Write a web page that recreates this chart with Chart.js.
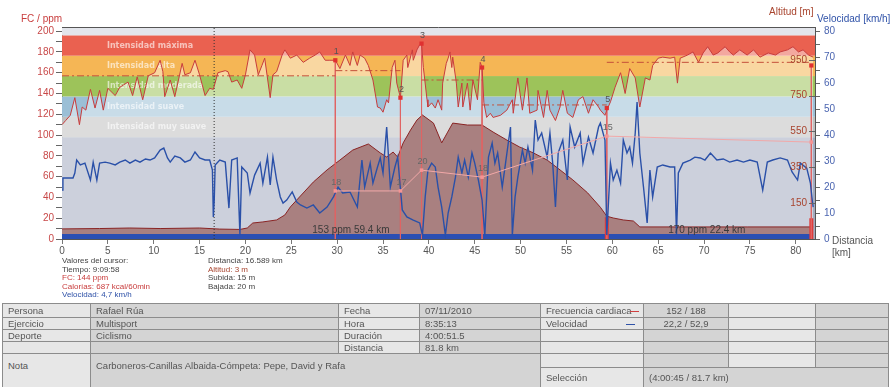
<!DOCTYPE html>
<html>
<head>
<meta charset="utf-8">
<script src="https://cdn.jsdelivr.net/npm/chart.js@4.4.1/dist/chart.umd.min.js"></script>
<style>
  body { margin: 0; background: #fff; font-family: "Liberation Sans", Arial, sans-serif; }
  #wrap { position: relative; width: 890px; height: 387px; overflow: hidden; }
  #chart { position: absolute; left: 0; top: 0; }
  .t { position: absolute; white-space: nowrap; font-size: 10px; line-height: 10px; }
  .cur { position: absolute; font-size: 8px; line-height: 8.5px; white-space: nowrap; color: #444; }
  .red { color: #c83c3c; }
  .blue { color: #2f52a8; }
  .brown { color: #a8442e; }
  table { position: absolute; left: 2px; top: 303px; border-collapse: collapse; table-layout: fixed;
          font-size: 9.5px; color: #555; }
  td { border: 1px solid #8c8c8c; padding: 0 0 0 5px; white-space: nowrap; overflow: hidden; }
  td.l { background: #e7e7e7; }
  td.d { background: #d4d4d4; }
  td.c { text-align: center; padding: 0; }
  .mk { display: inline-block; width: 9px; height: 1px; vertical-align: middle; margin-left: 1px; }
</style>
</head>
<body>
<div id="wrap">
  <canvas id="chart" width="890" height="300"></canvas>

  <div class="t red" style="left:21px;top:14px;">FC / ppm</div>
  <div class="t brown" style="left:769px;top:7px;">Altitud [m]</div>
  <div class="t blue" style="left:817px;top:14px;">Velocidad [km/h]</div>
  <div class="t" style="left:832px;top:236px;color:#555;">Distancia</div>
  <div class="t" style="left:832px;top:248px;color:#555;">[km]</div>

  <div class="cur" style="left:62px;top:257px;">
    Valores del cursor:<br>
    Tiempo: 9:09:58<br>
    <span class="red">FC: 144 ppm</span><br>
    <span class="red">Calorías: 687 kcal/60min</span><br>
    <span class="blue">Velocidad: 4,7 km/h</span>
  </div>
  <div class="cur" style="left:208px;top:257px;">
    Distancia: 16.589 km<br>
    <span class="brown">Altitud: 3 m</span><br>
    Subida: 15 m<br>
    Bajada: 20 m
  </div>

  <table>
    <colgroup>
      <col style="width:88px"><col style="width:248px"><col style="width:81px"><col style="width:121px">
      <col style="width:103px"><col style="width:85px"><col style="width:87px"><col style="width:73px">
    </colgroup>
    <tr style="height:14px">
      <td class="l">Persona</td><td class="d">Rafael Rúa</td><td class="l">Fecha</td><td class="d">07/11/2010</td>
      <td class="l">Frecuencia cardiaca<span class="mk" style="background:#d04040;margin-left:-2px"></span></td>
      <td class="d c">152 / 188</td><td class="l"></td><td class="d"></td>
    </tr>
    <tr style="height:12px">
      <td class="l">Ejercicio</td><td class="d">Multisport</td><td class="l">Hora</td><td class="d">8:35:13</td>
      <td class="l">Velocidad<span class="mk" style="background:#2f52a8;margin-left:39px"></span></td>
      <td class="d c">22,2 / 52,9</td><td class="l"></td><td class="d"></td>
    </tr>
    <tr style="height:12px">
      <td class="l">Deporte</td><td class="d">Ciclismo</td><td class="l">Duración</td><td class="d">4:00:51.5</td>
      <td class="l"></td><td class="d"></td><td class="l"></td><td class="d"></td>
    </tr>
    <tr style="height:12px">
      <td class="l"></td><td class="d"></td><td class="l">Distancia</td><td class="d">81.8 km</td>
      <td class="l"></td><td class="d"></td><td class="l"></td><td class="d"></td>
    </tr>
    <tr style="height:14px">
      <td class="l" rowspan="2" style="vertical-align:top;padding-top:6px;">Nota</td>
      <td class="d" colspan="3" rowspan="2" style="vertical-align:top;padding-top:6px;">Carboneros-Canillas Albaida-Cómpeta: Pepe, David y Rafa</td>
      <td class="l"></td><td class="d"></td><td class="l"></td><td class="d"></td>
    </tr>
    <tr style="height:20px">
      <td class="l">Selección</td><td class="d" colspan="3">(4:00:45 / 81.7 km)</td>
    </tr>
  </table>
</div>

<script>
// heart rate (ppm) against distance (km)
const hrKm = [0, 0.4, 0.9, 1.4, 1.9, 2.2, 2.6, 3.1, 3.6, 4.1, 4.5, 5.0, 5.8, 6.3, 7.2, 7.7, 8.2, 8.8, 9.4, 10.1,
  10.7, 11.0, 11.2, 11.8, 12.3, 13.1, 13.4, 14.0, 14.5, 15.0, 15.6, 16.1, 16.5, 17.0, 17.8, 18.1, 18.5, 19.1, 19.6, 20.0,
  20.5, 21.0, 21.4, 21.8, 22.1, 22.7, 23.0, 23.4, 24.0, 24.3, 24.9, 25.6, 26.3, 27.0, 27.6, 28.1, 28.7, 29.2, 29.8, 30.3,
  30.9, 31.4, 31.7, 32.2, 32.5, 33.0, 33.4, 33.9, 34.4, 34.7, 35.0, 35.4, 35.6, 36.0, 36.3, 36.5, 36.9, 37.2, 37.6, 37.7,
  38.2, 38.3, 38.7, 39.0, 39.2, 39.4, 39.8, 39.9, 40.3, 40.7, 41.0, 41.4, 41.5, 41.9, 42.1, 42.3, 42.5, 42.6, 43.0, 43.2,
  43.6, 43.7, 44.2, 44.5, 44.8, 45.3, 45.6, 45.8, 46.0, 46.3, 46.7, 47.0, 47.8, 48.5, 49.1, 49.2, 49.7, 50.2, 50.7, 51.0,
  51.8, 51.9, 52.5, 52.9, 53.2, 53.8, 54.3, 54.6, 55.1, 55.7, 56.3, 56.8, 57.4, 57.9, 58.5, 58.7, 59.2, 59.4, 59.8, 60.3,
  60.9, 61.4, 61.9, 62.5, 63.0, 63.6, 64.1, 64.4, 65.0, 65.5, 66.3, 66.8, 67.1, 67.4, 68.2, 68.8, 69.4, 69.9, 70.4, 71.0,
  71.5, 72.3, 72.8, 73.2, 73.9, 74.7, 75.4, 76.1, 77.0, 77.8, 78.3, 79.1, 79.7, 80.3, 80.8, 81.4, 81.9];
const hrBpm = [110, 114, 119, 136, 110, 127, 124, 144, 126, 143, 124, 145, 138, 146, 151, 138, 156, 134, 157, 160,
  172, 161, 137, 153, 137, 169, 158, 160, 172, 158, 138, 145, 144, 160, 162, 161, 151, 153, 145, 158,
  182, 177, 158, 167, 174, 136, 158, 161, 177, 182, 174, 177, 170, 174, 177, 180, 172, 172, 172, 164,
  177, 167, 180, 167, 177, 174, 167, 153, 127, 126, 122, 134, 131, 165, 172, 150, 136, 172, 177, 165,
  182, 172, 182, 187, 188, 165, 134, 127, 131, 126, 134, 124, 150, 169, 174, 180, 165, 175, 150, 127,
  150, 127, 150, 124, 153, 134, 170, 165, 131, 117, 121, 117, 119, 124, 134, 121, 155, 124, 155, 121,
  124, 143, 117, 143, 124, 114, 127, 143, 121, 117, 134, 137, 121, 134, 127, 124, 119, 124, 132, 146,
  160, 140, 164, 155, 127, 155, 153, 167, 174, 175, 174, 175, 150, 174, 177, 180, 170, 179, 185, 177,
  179, 185, 180, 177, 182, 177, 182, 175, 179, 177, 180, 182, 185, 180, 182, 177, 175];

// speed (km/h) against distance (km)
const speedKm = [0, 0.1, 1.2, 1.4, 1.6, 2.0, 2.5, 3.1, 3.4, 3.8, 4.1, 4.7, 5.2, 5.8, 6.3, 6.9, 7.4, 8.0, 8.5, 9.1,
  9.6, 10.1, 10.7, 11.1, 11.5, 11.8, 12.3, 12.9, 13.4, 14.0, 14.5, 15.0, 15.6, 16.1, 16.4, 16.5, 16.6, 16.7, 17.2, 17.8,
  18.2, 18.5, 19.1, 19.4, 19.6, 20.2, 20.5, 21.0, 21.6, 21.9, 22.4, 22.7, 23.0, 23.4, 23.8, 24.1, 24.5, 25.1, 25.6, 26.0,
  26.7, 27.4, 28.1, 28.9, 29.6, 30.1, 30.6, 31.4, 32.2, 32.7, 33.0, 33.6, 33.9, 34.4, 34.7, 35.0, 35.4, 35.8, 36.3, 36.6,
  37.1, 37.6, 38.3, 39.0, 39.3, 39.6, 39.9, 40.3, 40.7, 41.0, 41.4, 41.8, 42.1, 42.5, 42.9, 43.2, 43.6, 43.9, 44.3, 44.7,
  45.0, 45.4, 45.8, 46.1, 46.5, 46.9, 47.2, 47.5, 48.0, 48.3, 48.6, 48.9, 49.1, 49.4, 49.7, 50.2, 50.5, 50.8, 51.3, 51.6,
  51.9, 52.3, 52.9, 53.2, 53.5, 53.8, 54.1, 54.6, 55.1, 55.4, 55.9, 56.5, 56.8, 57.4, 57.9, 58.5, 58.7, 59.2, 59.4, 59.8,
  60.1, 60.5, 60.9, 61.2, 61.6, 61.9, 62.2, 62.5, 62.7, 63.0, 63.4, 63.8, 64.1, 64.4, 64.9, 65.5, 66.3, 66.8, 67.0, 67.2,
  67.7, 68.5, 69.0, 69.6, 70.1, 70.7, 71.4, 72.1, 72.8, 73.6, 74.3, 75.0, 75.8, 76.4, 76.9, 77.5, 78.3, 79.1, 79.6, 80.2,
  80.5, 81.2, 81.6, 81.8, 81.9];
const speedKmh = [18.8, 23.5, 23.5, 25.4, 30.4, 28.5, 29.2, 22.7, 29.6, 22.7, 29.2, 29.6, 29.2, 28.5, 29.6, 30.4, 29.2, 30.4, 29.6, 30.8,
  30.4, 31.2, 34.2, 35.0, 31.2, 29.6, 31.9, 31.2, 29.6, 30.4, 33.5, 31.2, 30.4, 30.4, 26.5, 8.5, 15.0, 28.5, 30.4, 29.6,
  11.9, 30.4, 31.2, 1.5, 27.7, 25.4, 17.7, 24.6, 29.2, 21.5, 31.5, 20.8, 31.5, 22.7, 16.2, 13.8, 15.0, 18.1, 14.2, 13.1,
  11.9, 13.1, 10.0, 12.3, 16.2, 20.0, 17.7, 18.1, 12.3, 30.4, 20.0, 29.2, 21.5, 27.7, 31.2, 25.4, 43.1, 20.0, 27.7, 31.5,
  11.2, 8.5, 7.3, 6.2, 1.5, 16.2, 26.5, 29.2, 27.7, 20.0, 12.3, 1.5, 10.0, 16.2, 23.8, 31.5, 25.4, 30.4, 23.8, 33.1,
  29.2, 22.7, 15.0, 1.5, 31.5, 36.9, 29.2, 33.1, 20.0, 27.7, 35.4, 43.1, 1.5, 16.2, 23.8, 34.2, 29.2, 35.4, 26.5, 45.8,
  38.1, 40.8, 31.5, 40.8, 29.2, 12.3, 33.1, 38.1, 22.7, 43.1, 35.4, 40.8, 29.2, 39.2, 33.1, 43.1, 44.6, 38.1, 1.5, 29.2,
  22.7, 26.5, 21.5, 38.1, 33.1, 35.4, 29.2, 40.8, 52.7, 33.1, 20.0, 6.2, 26.5, 16.2, 27.7, 28.5, 27.7, 27.7, 1.5, 25.4,
  29.2, 30.4, 31.5, 31.2, 30.4, 33.1, 30.4, 30.8, 29.6, 30.4, 29.6, 30.4, 29.6, 18.8, 29.6, 30.4, 31.2, 30.4, 25.8, 22.7,
  29.2, 27.3, 21.5, 15.0, 12.3];

// altitude (m) against distance (km)
const altKm = [0, 4.1, 7.4, 10.7, 15.0, 17.2, 19.4, 20.2, 20.8, 21.9, 23.4, 24.3, 24.9, 25.6, 27.4, 28.9, 30.3, 31.7, 33.4, 34.7,
  35.4, 36.1, 36.6, 37.2, 38.0, 38.7, 39.3, 40.5, 41.4, 42.0, 42.6, 44.2, 45.8, 47.0, 48.5, 49.9, 51.4, 52.9, 54.3, 55.7,
  57.3, 58.7, 59.4, 60.1, 61.2, 62.3, 63.0, 67.4, 74.7, 81.9];
const altM = [5, 7, 10, 7, 10, 4, 2, 10, 38, 44, 55, 83, 128, 167, 267, 335, 390, 446, 480, 430,
  407, 435, 407, 486, 558, 614, 642, 597, 486, 542, 597, 586, 586, 547, 502, 463, 430, 390, 335, 279,
  207, 126, 76, 66, 55, 49, 16, 16, 16, 16];

// laps
const lapKm = [29.8, 36.9, 39.2, 45.8, 59.4, 81.7];
const lapHr = [172, 136, 188, 165, 126, 167];
const lapNames = ['1', '2', '3', '4', '5', ''];
const lapAvgHr = [157, 162, null, 153, 129, 170];
const lapSpeed = [18.5, 18.5, 26.5, 23.8, 39.6, 37.3];
const lapSpeedNames = ['18', '17', '20', '18', '15', ''];

// heart rate zones
const zoneBounds = [98, 117.6, 137.2, 156.8, 176.4, 196];
const zoneNames = ['Intensidad muy suave', 'Intensidad suave', 'Intensidad moderada', 'Intensidad alta', 'Intensidad máxima'];
const zoneColors = ['#a2aabf', '#bfbfbf', '#9bbfd6', '#9dc35a', '#f5b655', '#ea6150', '#e3e5eb'];

// markers
const cursorKm = 16.589;
const segmentKm = [59.4, 81.7];
const segmentBarHr = [21, 20];
const segmentLabels = ['153 ppm 59.4 km', '170 ppm 22.4 km'];
const segmentLabelKm = [31.5, 70.3];
const selectionKm = [0, 81.7];

// ticks
const distTicks = [0, 5, 10, 15, 20, 25, 30, 35, 40, 45, 50, 55, 60, 65, 70, 75, 80];
const hrTicks = [0, 10, 20, 30, 40, 50, 60, 70, 80, 90, 100, 110, 120, 130, 140, 150, 160, 170, 180, 190, 200];
const speedTicks = [0, 5, 10, 15, 20, 25, 30, 35, 40, 45, 50, 55, 60, 65, 70, 75, 80];
const altTicks = [150, 350, 550, 750, 950];

const FONT = '"Liberation Sans", Arial, sans-serif';

const pts = (xs, ys) => xs.map((x, i) => ({ x: x, y: ys[i] }));

const zonePlugin = {
  id: 'zones',
  beforeDatasetsDraw(chart) {
    const { ctx, chartArea: a, scales: { x, y } } = chart;
    const edges = [y.min, ...zoneBounds, y.max];
    ctx.save();
    for (let i = 0; i < edges.length - 1; i++) {
      const top = y.getPixelForValue(edges[i + 1]);
      const bot = y.getPixelForValue(edges[i]);
      ctx.fillStyle = zoneColors[i];
      ctx.fillRect(a.left, top, a.width, bot - top);
    }
    ctx.font = 'bold 8px "DejaVu Sans", sans-serif';
    ctx.fillStyle = 'rgba(255,255,255,0.62)';
    ctx.textBaseline = 'middle';
    zoneNames.forEach((n, i) => {
      const mid = y.getPixelForValue((zoneBounds[i] + zoneBounds[i + 1]) / 2);
      ctx.fillText(n, x.getPixelForValue(4.9), mid);
    });
    ctx.restore();
  },
  afterDatasetsDraw(chart) {
    const { ctx, chartArea: a, scales: { x, y, yAlt } } = chart;
    ctx.save();
    // plot top border
    ctx.strokeStyle = '#555';
    ctx.lineWidth = 1;
    ctx.beginPath();
    ctx.moveTo(a.left, a.top + 0.5);
    ctx.lineTo(a.right, a.top + 0.5);
    ctx.stroke();

    // point labels
    ctx.font = '9px ' + FONT;
    ctx.textAlign = 'center';
    ctx.textBaseline = 'bottom';
    chart.data.datasets.forEach((ds, di) => {
      if (!ds.pointLabels) return;
      const meta = chart.getDatasetMeta(di);
      ctx.fillStyle = ds.labelColor;
      meta.data.forEach((el, i) => {
        if (ds.pointLabels[i]) ctx.fillText(ds.pointLabels[i], el.x + 1, el.y - 4);
      });
    });

    // segment summaries
    ctx.font = '10px ' + FONT;
    ctx.fillStyle = '#3a3a3a';
    ctx.textBaseline = 'middle';
    segmentLabels.forEach((s, i) => {
      ctx.fillText(s, x.getPixelForValue(segmentLabelKm[i]), y.getPixelForValue(8.7));
    });

    // altitude scale labels inside the plot
    ctx.font = '10px ' + FONT;
    ctx.fillStyle = '#a8442e';
    ctx.textAlign = 'right';
    ctx.strokeStyle = '#666';
    altTicks.forEach(v => {
      const py = yAlt.getPixelForValue(v);
      ctx.fillText(String(v), a.right - 8, py);
      ctx.beginPath();
      ctx.moveTo(a.right - 6, Math.round(py) + 0.5);
      ctx.lineTo(a.right, Math.round(py) + 0.5);
      ctx.stroke();
    });
    ctx.restore();
  }
};

const fixedTicks = list => scale => { scale.ticks = list.map(v => ({ value: v })); };

new Chart(document.getElementById('chart'), {
  type: 'line',
  data: {
    datasets: [
      {
        // washes the zones under the heart rate curve
        data: pts(hrKm, hrBpm), yAxisID: 'y', borderWidth: 0,
        fill: 'start', backgroundColor: 'rgba(255,255,255,0.45)', order: 20
      },
      {
        data: pts(altKm, altM), yAxisID: 'yAlt', borderColor: '#8a2424', borderWidth: 1,
        fill: 'start', backgroundColor: '#a98080', order: 15
      },
      {
        data: pts(selectionKm, [1, 1]), yAxisID: 'ySpeed', borderColor: '#2b4fb3', borderWidth: 5, order: 12
      },
      {
        data: segmentKm.flatMap((k, i) => [{ x: k, y: 0 }, { x: k, y: segmentBarHr[i] }, { x: k, y: null }]),
        yAxisID: 'y', borderColor: '#e03c3c', borderWidth: 4, order: 11
      },
      {
        data: lapKm.flatMap((k, i) => [{ x: k, y: lapHr[i] }, { x: k, y: 0 }, { x: k, y: null }]),
        yAxisID: 'y', borderColor: '#e06464', borderWidth: 1, order: 10
      },
      {
        data: lapKm.flatMap((k, i) => lapAvgHr[i] == null ? [] :
          [{ x: i ? lapKm[i - 1] : 0, y: lapAvgHr[i] }, { x: k, y: lapAvgHr[i] }, { x: k, y: null }]),
        yAxisID: 'y', borderColor: '#c4503a', borderWidth: 1, borderDash: [7, 3, 2, 3], order: 9
      },
      {
        data: [{ x: cursorKm, y: 0 }, { x: cursorKm, y: 204 }],
        yAxisID: 'y', borderColor: '#333', borderWidth: 1, borderDash: [1, 2], order: 8
      },
      {
        data: pts(speedKm, speedKmh), yAxisID: 'ySpeed', borderColor: '#2a50a8', borderWidth: 1.4, order: 5
      },
      {
        data: pts(lapKm, lapSpeed), yAxisID: 'ySpeed', borderColor: '#f2a8a8', borderWidth: 1,
        pointStyle: 'rect', pointRadius: 2.5, pointBackgroundColor: '#f59494', pointBorderWidth: 0,
        pointLabels: lapSpeedNames, labelColor: '#666', order: 4
      },
      {
        data: pts(hrKm, hrBpm), yAxisID: 'y', borderColor: '#c83c3c', borderWidth: 1, order: 2
      },
      {
        data: pts(lapKm, lapHr), yAxisID: 'y', showLine: false,
        pointStyle: 'rect', pointRadius: 3, pointBackgroundColor: '#e03030', pointBorderWidth: 0,
        pointLabels: lapNames, labelColor: '#555', order: 1
      }
    ]
  },
  options: {
    responsive: false,
    animation: false,
    devicePixelRatio: 1,
    layout: { padding: { top: 27, left: 0, right: 0, bottom: 0 } },
    plugins: { legend: { display: false }, tooltip: { enabled: false } },
    elements: { point: { radius: 0 }, line: { tension: 0 } },
    spanGaps: false,
    scales: {
      x: {
        type: 'linear', min: 0, max: 82.1,
        afterBuildTicks: fixedTicks(distTicks),
        afterFit: s => { s.height = 61; },
        grid: { drawOnChartArea: false, color: '#777', tickLength: 5 },
        border: { color: '#555' },
        ticks: { color: '#555', font: { size: 10, family: FONT }, padding: 1, maxRotation: 0, autoSkip: false }
      },
      y: {
        position: 'left', min: 0, max: 204,
        afterBuildTicks: fixedTicks(hrTicks),
        afterFit: s => { s.width = 62; },
        grid: { drawOnChartArea: false, color: '#666', tickLength: 6 },
        border: { color: '#555' },
        ticks: { color: '#c84848', font: { size: 10, family: FONT }, padding: 2, autoSkip: false,
                 callback: v => v % 20 === 0 ? v : '' }
      },
      yAlt: {
        position: 'right', min: -51.5, max: 1134.5,
        afterBuildTicks: fixedTicks(altTicks),
        afterFit: s => { s.width = 0; },
        grid: { display: false }, border: { display: false },
        ticks: { display: false }
      },
      ySpeed: {
        position: 'right', min: 0, max: 81.6,
        afterBuildTicks: fixedTicks(speedTicks),
        afterFit: s => { s.width = 75; },
        grid: { drawOnChartArea: false, color: '#666', tickLength: 5 },
        border: { color: '#555' },
        ticks: { color: '#4a64b0', font: { size: 10, family: FONT }, padding: 4, autoSkip: false,
                 callback: v => v % 10 === 0 ? v : '' }
      }
    }
  },
  plugins: [zonePlugin]
});
</script>
</body>
</html>
